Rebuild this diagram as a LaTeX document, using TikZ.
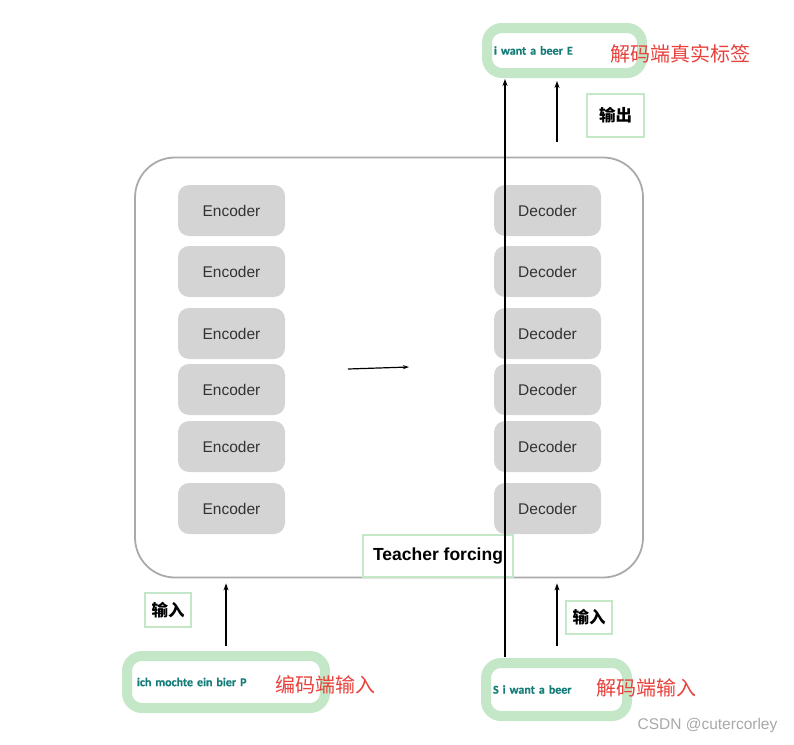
\documentclass[tikz,border=0pt]{standalone}
\usepackage{fontspec}
\setmainfont{Liberation Sans}
\newfontfamily\cjk{Noto Sans CJK SC}
\newfontfamily\carlitofont{Carlito}[BoldFeatures={FakeBold=0.5}]
\usetikzlibrary{arrows.meta,calc}
\definecolor{framegray}{HTML}{AAAAAA}
\definecolor{boxgray}{HTML}{D4D4D4}
\definecolor{txtgray}{HTML}{333333}
\definecolor{lgreen}{HTML}{C4E7C7}
\definecolor{teal2}{HTML}{137C78}
\definecolor{red2}{HTML}{E8413C}
\definecolor{wm}{HTML}{A8A8A8}
\begin{document}
\begin{tikzpicture}[x=1pt,y=-1pt,
  frame/.style={draw=framegray,line width=1.8pt,rounded corners=40pt,minimum width=508pt,minimum height=420pt,inner sep=0pt},
  blk/.style={fill=boxgray,rounded corners=11pt,minimum width=107pt,minimum height=51pt,inner sep=0pt,text=txtgray,font=\fontsize{15.5}{18}\selectfont},
  tfbox/.style={draw=lgreen,line width=1.6pt,fill=white,minimum width=150pt,minimum height=42pt,inner sep=0pt,font=\bfseries\fontsize{17.5}{20}\selectfont},
  tag/.style={draw=lgreen,line width=1.6pt,inner sep=0pt,font=\cjk\bfseries\fontsize{16.5}{19}\selectfont},
  seq/.style={draw=lgreen,fill=white,line width=10pt,rounded corners=15pt,inner ysep=0pt,align=left,text=teal2,font=\carlitofont\bfseries\fontsize{12}{14}\selectfont},
  red/.style={text=red2,font=\cjk\fontsize{20}{24}\selectfont,inner sep=0pt},
  arr/.style={line width=1.5pt,-{Stealth[length=7pt,width=5pt]}},
  marr/.style={line width=1.2pt,-{Stealth[length=6pt,width=4pt]}}
]
\useasboundingbox (0,0) rectangle (794,744);
\node[frame] (frame) at (389,367.5) {};
\foreach \y [count=\i] in {210.5,271.5,333.5,389.5,446.5,508.5}{
  \node[blk] (enc\i) at (231.5,\y) {Encoder};
  \node[blk] (dec\i) at (547.5,\y) {Decoder};
}
\coordinate (ma) at (348,369);
\coordinate (mb) at (409,367);
\draw[marr] (ma) -- (mb);
\node[tfbox] (tf) at (438,556) {Teacher forcing};
% sequence boxes
\node[seq,minimum width=155pt,minimum height=45pt,text width=141pt,inner xsep=7pt] (tgt) at (564.5,50.5) {i want a beer E};
\node[seq,minimum width=198pt,minimum height=52pt,text width=178pt,inner xsep=10pt] (ein) at (226,682) {ich mochte ein bier P};
\node[seq,minimum width=141pt,minimum height=53pt,text width=127pt,inner xsep=7pt] (din) at (556.5,689.5) {S i want a beer};
\node[red] (ltgt) at (680,54) {解码端真实标签};
\node[red] (lein) at (325,685) {编码端输入};
\node[red] (ldin) at (646,688) {解码端输入};
% tags
\node[tag,minimum width=57pt,minimum height=43pt] (out) at (615.5,115.5) {输出};
\node[tag,minimum width=46pt,minimum height=34pt] (inl) at (168,610) {输入};
\node[tag,minimum width=46pt,minimum height=33pt] (inr) at (589,617.5) {输入};
% arrows
\coordinate (lx) at (505,0);
\coordinate (rx) at (557,0);
\draw[arr] ([yshift=1pt]lx |- din.north) -- ([yshift=-1pt]lx |- tgt.south);
\draw[arr] ([yshift=15pt]rx |- frame.north) -- ([yshift=-3pt]rx |- tgt.south);
\draw[arr] ([yshift=5pt]ein.north) -- ([yshift=-5pt]frame.south -| ein.north);
\draw[arr] ([yshift=12pt]rx |- din.north) -- ([yshift=-5pt]rx |- frame.south);
\node[text=wm,font=\fontsize{15.5}{18}\selectfont,inner sep=0pt] (wm) at (707.5,725) {CSDN @cutercorley};
\end{tikzpicture}
\end{document}
